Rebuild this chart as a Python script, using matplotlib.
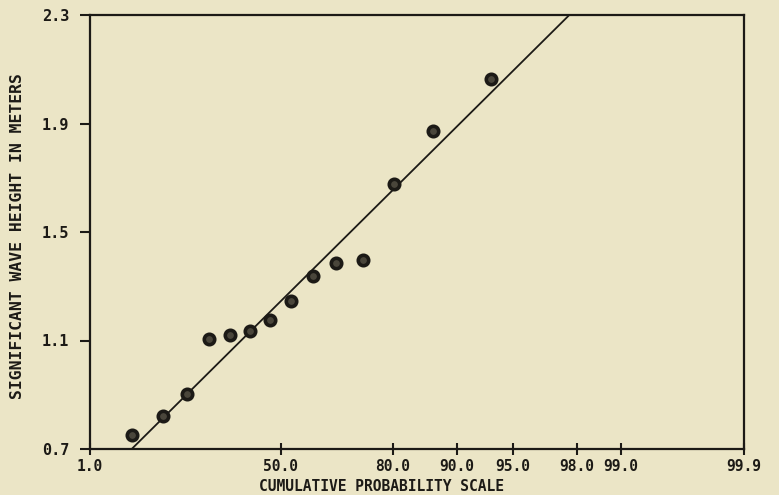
import numpy as np
import matplotlib
matplotlib.use("Agg")
import matplotlib.pyplot as plt

# probability axis: tick probabilities and where they sit along the axis
prob_ticks = [1.0, 50.0, 80.0, 90.0, 95.0, 98.0, 99.0, 99.9]
prob_labels = ["1.0", "50.0", "80.0", "90.0", "95.0", "98.0", "99.0", "99.9"]
axis_pos = [0.0, 191.0, 303.0, 367.0, 423.0, 487.0, 531.0, 654.0]

height_ticks = [0.7, 1.1, 1.5, 1.9, 2.3]

# observed points (cumulative probability %, wave height m)
obs_prob = [11.9, 19.6, 25.9, 31.6, 36.9, 42.0, 47.2, 52.6, 58.5, 64.7, 71.9, 80.1, 86.2, 93.0]
obs_height = [0.752, 0.820, 0.903, 1.104, 1.122, 1.134, 1.174, 1.244, 1.336,
              1.385, 1.396, 1.678, 1.872, 2.063]

# fitted line
fit_prob = [11.7, 97.64]
fit_height = [0.7, 2.3]


def fwd(p):
    return np.interp(p, prob_ticks, axis_pos)


def inv(v):
    return np.interp(v, axis_pos, prob_ticks)


bg = "#ebe5c6"
ink = "#1c1a16"
plt.rcParams["font.family"] = "DejaVu Sans Mono"
plt.rcParams["font.weight"] = "bold"
plt.rcParams["axes.labelweight"] = "bold"

fig = plt.figure(figsize=(7.79, 4.95), dpi=100, facecolor=bg)
ax = fig.add_axes([90 / 779, 1 - 449 / 495, 654 / 779, 434 / 495], facecolor=bg)

ax.set_xscale("function", functions=(fwd, inv))
ax.set_xlim(1.0, 99.9)
ax.set_ylim(0.7, 2.3)

ax.plot(fit_prob, fit_height, color=ink, lw=1.3)
ax.plot(obs_prob, obs_height, "o", ms=7.5, mfc="#4a463b", mec=ink, mew=2.6, clip_on=False)

ax.set_xticks(prob_ticks)
ax.set_xticklabels(prob_labels)
ax.xaxis.set_minor_locator(matplotlib.ticker.NullLocator())
ax.set_yticks(height_ticks)
ax.set_yticklabels(["%.1f" % v for v in height_ticks])

ax.tick_params(axis="x", direction="inout", length=8, width=1.5, color=ink,
               labelsize=10.5, pad=3, labelcolor=ink)
ax.tick_params(axis="y", direction="out", length=7, width=1.5, color=ink,
               labelsize=11, pad=8, labelcolor=ink)
for s in ax.spines.values():
    s.set_linewidth(1.6)
    s.set_color(ink)

ax.set_xlabel("CUMULATIVE PROBABILITY SCALE", fontsize=10.5, color=ink, fontweight="bold")
ax.xaxis.set_label_coords(0.445, -0.068)
ax.set_ylabel("SIGNIFICANT WAVE HEIGHT IN METERS", fontsize=11.8, color=ink, fontweight="bold")
ax.yaxis.set_label_coords(-0.10, 0.49)

fig.savefig("out.png", dpi=100, facecolor=bg)
